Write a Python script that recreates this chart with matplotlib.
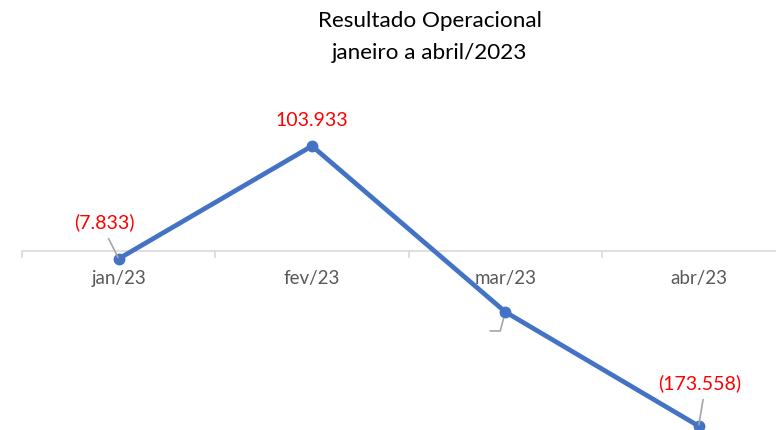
import matplotlib
matplotlib.use('Agg')
import matplotlib.pyplot as plt
import numpy as np

# Resultado operacional, jan-abr/2023 (valores em milhares)
meses = ['jan/23', 'fev/23', 'mar/23', 'abr/23']
resultado = [-7.833, 103.933, -60.5, -173.558]
rotulos = ['(7.833)', '103.933', '', '(173.558)']

plt.rcParams['font.family'] = ['Lato', 'DejaVu Sans']

W, H = 776, 430
fig = plt.figure(figsize=(W / 100, H / 100), dpi=100)
ax = fig.add_axes([22 / W, 0, 754 / W, 330 / H])

x = np.arange(len(meses))
ax.plot(x, resultado, color='#4472C4', lw=3.4, marker='o', ms=7.5,
        solid_capstyle='round', zorder=5, clip_on=False)

ax.set_xlim(-0.5, 3.4)
ax.set_ylim(-177.5, 149.5)

# eixo de categorias em zero
for s in ['top', 'right', 'left']:
    ax.spines[s].set_visible(False)
ax.spines['bottom'].set_position(('data', 0))
ax.spines['bottom'].set_color('#D9D9D9')
ax.spines['bottom'].set_linewidth(1.2)
ax.set_yticks([])
ax.set_xticks(x)
ax.set_xticklabels(meses, color='#595959', fontsize=13.5)
ax.tick_params(axis='x', which='major', length=0, pad=13.5)
ax.set_xticks(np.arange(-0.5, 3.0, 1.0), minor=True)
ax.tick_params(axis='x', which='minor', length=5, color='#D9D9D9', width=1.2)

# rotulos de dados com linhas de chamada
gray = '#A6A6A6'
fs = 14
ax.annotate(rotulos[0], (x[0], resultado[0]), xytext=(-10, 26.5),
            textcoords='offset points', ha='center', va='center',
            color='#FF0000', fontsize=fs, zorder=6,
            arrowprops=dict(arrowstyle='-', color=gray, lw=1.2,
                            relpos=(0.5, 0), shrinkA=4, shrinkB=1))
ax.annotate(rotulos[1], (x[1], resultado[1]), xytext=(0, 18),
            textcoords='offset points', ha='center', va='center',
            color='#FF0000', fontsize=fs, zorder=6)
ax.annotate(rotulos[2], (x[2], resultado[2]), xytext=(-11, -13.7),
            textcoords='offset points', ha='center', va='center',
            color='#FF0000', fontsize=fs, zorder=6,
            arrowprops=dict(arrowstyle='-', color=gray, lw=1.2,
                            connectionstyle='angle,angleA=0,angleB=75,rad=0',
                            shrinkA=0, shrinkB=5))
ax.annotate(rotulos[3], (x[3], resultado[3]), xytext=(1, 30.5),
            textcoords='offset points', ha='center', va='center',
            color='#FF0000', fontsize=fs, zorder=6,
            arrowprops=dict(arrowstyle='-', color=gray, lw=1.2,
                            relpos=(0.55, 0), shrinkA=3, shrinkB=1))

fig.text(430 / W, 1 - 21 / H, 'Resultado Operacional', ha='center', va='center',
         fontsize=16.2, color='#000000')
fig.text(430 / W, 1 - 53 / H, 'janeiro a abril/2023', ha='center', va='center',
         fontsize=16.2, color='#000000')

fig.savefig('out.png', dpi=100)
